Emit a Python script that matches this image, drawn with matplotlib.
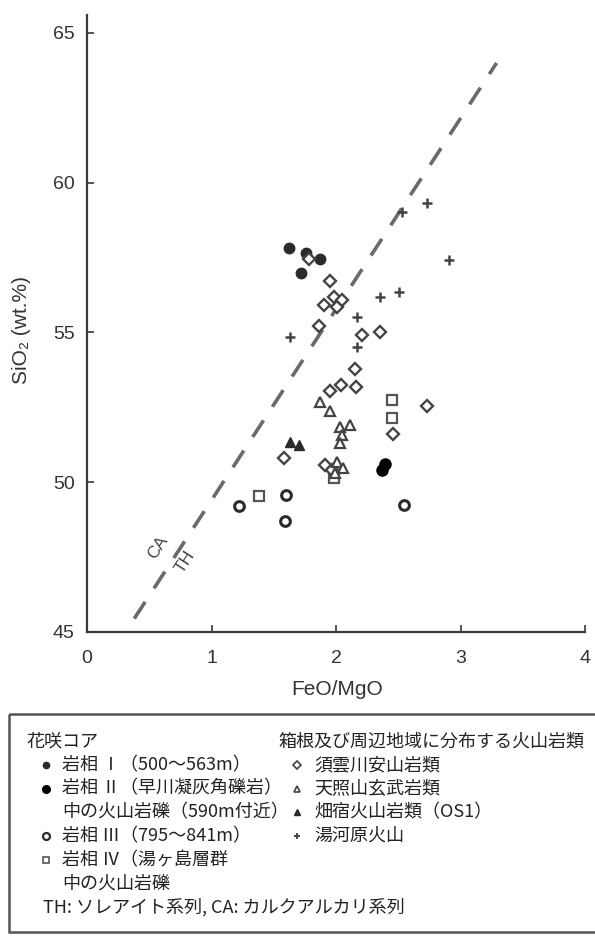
import matplotlib.pyplot as plt
from matplotlib.patches import Rectangle

plt.rcParams['font.family'] = ['Liberation Sans', 'Noto Sans CJK JP', 'DejaVu Sans']

# data (FeO/MgO, SiO2 wt.%)
facies1_x = [1.62, 1.76, 1.87, 1.72]
facies1_y = [57.82, 57.65, 57.45, 57.0]
facies2_x = [2.37, 2.39]
facies2_y = [50.42, 50.6]
facies3_x = [1.22, 1.60, 1.59, 2.55]
facies3_y = [49.22, 49.57, 48.7, 49.24]
facies4_x = [1.38, 2.45, 2.45, 1.98]
facies4_y = [49.55, 52.75, 52.16, 50.15]
sugumo_x = [1.78, 1.95, 1.98, 1.90, 2.01, 2.05, 1.86, 2.35, 2.21, 2.15, 2.16, 2.04, 1.95,
            2.73, 2.46, 1.58, 1.91, 1.97]
sugumo_y = [57.45, 56.73, 56.2, 55.92, 55.86, 56.08, 55.23, 55.03, 54.9, 53.77, 53.19, 53.25, 53.06,
            52.55, 51.61, 50.82, 50.58, 50.42]
tensho_x = [1.87, 1.95, 2.03, 2.11, 2.05, 2.03, 2.01, 2.06, 1.99]
tensho_y = [52.69, 52.39, 51.85, 51.91, 51.58, 51.3, 50.69, 50.47, 50.3]
hatajuku_x = [1.63, 1.70]
hatajuku_y = [51.35, 51.24]
yugawara_x = [1.63, 2.17, 2.17, 2.35, 2.51, 2.53, 2.73, 2.91]
yugawara_y = [54.86, 55.53, 54.53, 56.17, 56.36, 59.03, 59.31, 57.42]

boundary_x = [0.38, 3.29]
boundary_y = [45.45, 64.0]

x_ticks = [0, 1, 2, 3, 4]
y_ticks = [45, 50, 55, 60, 65]

dark = '#2b2b2b'
jp = ['Noto Sans CJK JP', 'DejaVu Sans']

series = [
    (facies1_x, facies1_y, dict(marker='o', ms=7.5, mfc=dark, mec=dark)),
    (facies2_x, facies2_y, dict(marker='o', ms=8, mfc='black', mec='black')),
    (facies3_x, facies3_y, dict(marker='o', ms=7, mfc='white', mec=dark, mew=2.2)),
    (facies4_x, facies4_y, dict(marker='s', ms=6.5, mfc='white', mec='#555555', mew=1.6)),
    (sugumo_x, sugumo_y, dict(marker='D', ms=6, mfc='white', mec='#444444', mew=1.7)),
    (tensho_x, tensho_y, dict(marker='^', ms=7, mfc='white', mec='#444444', mew=1.6)),
    (hatajuku_x, hatajuku_y, dict(marker='^', ms=7, mfc=dark, mec=dark)),
    (yugawara_x, yugawara_y, dict(marker='+', ms=7, mec='#444444', mew=1.8)),
]

fig = plt.figure(figsize=(5.95, 9.36), dpi=100)
ax = fig.add_axes([87 / 595, 304 / 936, 498 / 595, 617 / 936])

ax.plot(boundary_x, boundary_y, color='#6a6a6a', lw=2.6, dashes=(5.5, 4.5), solid_capstyle='butt')
for xs, ys, st in series:
    ax.plot(xs, ys, ls='none', **st)

ax.set_xlim(0, 4)
ax.set_ylim(45, 65.6)
ax.set_xticks(x_ticks)
ax.set_yticks(y_ticks)
for s in ['top', 'right']:
    ax.spines[s].set_visible(False)
for s in ['left', 'bottom']:
    ax.spines[s].set_linewidth(1.6)
    ax.spines[s].set_color('#3a3a3a')
ax.tick_params(direction='in', length=5, width=1.2, color='#3a3a3a', labelsize=14,
               labelcolor='#333333')
ax.tick_params(axis='x', pad=13)
ax.tick_params(axis='y', pad=9)

ax.set_xlabel('FeO/MgO', fontsize=15, color='#333333')
ax.set_ylabel('SiO₂ (wt.%)', fontsize=15, color='#333333')
ax.xaxis.set_label_coords(0.502, -0.078)
ax.yaxis.set_label_coords(-0.112, 0.49)

ax.text(0.57, 47.84, 'CA', rotation=57, fontsize=12.5, color='#444444', ha='center', va='center')
ax.text(0.79, 47.34, 'TH', rotation=57, fontsize=12.5, color='#444444', ha='center', va='center')

# legend drawn in pixel coordinates
lax = fig.add_axes([0, 0, 1, 1])
lax.set_xlim(0, 595)
lax.set_ylim(936, 0)
lax.axis('off')
lax.add_patch(Rectangle((9, 714), 600, 218, fill=False, lw=1.8, ec='#555555'))

fs = 13
tcol = '#222222'
lax.text(26, 742, '花咲コア', fontsize=fs, family=jp, color=tcol, va='center')
lax.text(278, 742, '箱根及び周辺地域に分布する火山岩類', fontsize=fs, family=jp, color=tcol, va='center')

left_rows = [
    (dict(marker='o', ms=4.5, mfc=dark, mec=dark), '岩相 Ⅰ（500〜563m）'),
    (dict(marker='o', ms=5.5, mfc='black', mec='black'), '岩相 Ⅱ（早川凝灰角礫岩）'),
    (None, '中の火山岩礫（590m付近）'),
    (dict(marker='o', ms=5, mfc='white', mec=dark, mew=1.6), '岩相 Ⅲ（795〜841m）'),
    (dict(marker='s', ms=4.5, mfc='white', mec='#555555', mew=1.2), '岩相 Ⅳ（湯ヶ島層群'),
    (None, '中の火山岩礫'),
]
right_rows = [
    (dict(marker='D', ms=4, mfc='white', mec='#444444', mew=1.2), '須雲川安山岩類'),
    (dict(marker='^', ms=5, mfc='white', mec='#444444', mew=1.2), '天照山玄武岩類'),
    (dict(marker='^', ms=5, mfc=dark, mec=dark), '畑宿火山岩類（OS1）'),
    (dict(marker='+', ms=5, mec='#444444', mew=1.4), '湯河原火山'),
]
row0, dy = 765, 23.7
for i, (st, label) in enumerate(left_rows):
    y = row0 + i * dy
    if st is not None:
        lax.plot([46], [y], ls='none', **st)
    lax.text(62, y, label, fontsize=fs, family=jp, color=tcol, va='center')
for i, (st, label) in enumerate(right_rows):
    y = row0 + i * dy
    lax.plot([297], [y], ls='none', **st)
    lax.text(314, y, label, fontsize=fs, family=jp, color=tcol, va='center')
lax.text(43, row0 + 6 * dy, 'TH: ソレアイト系列, CA: カルクアルカリ系列', fontsize=fs, family=jp,
         color=tcol, va='center')

fig.savefig('out.png', dpi=100)
